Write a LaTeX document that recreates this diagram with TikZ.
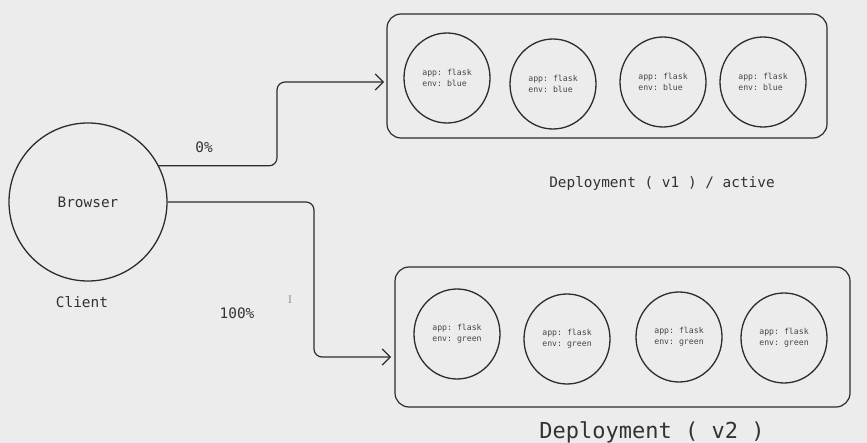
\documentclass[tikz,border=0pt]{standalone}
\usepackage{fontspec}
\setmonofont{DejaVu Sans Mono}
\usetikzlibrary{arrows.meta,shapes.geometric}
\definecolor{bg}{RGB}{236,236,236}
\definecolor{ink}{RGB}{45,45,45}
\definecolor{txt}{RGB}{50,50,50}
\definecolor{podtxt}{RGB}{70,70,70}
\tikzset{
  pod/.style={ellipse, draw=ink, line width=1.3pt, minimum width=86pt, minimum height=90pt, inner sep=0pt,
    align=left, text=podtxt, font=\ttfamily\fontsize{8.2}{11}\selectfont},
  depbox/.style={draw=ink, line width=1.2pt, rounded corners=14pt},
  lbl/.style={text=txt, font=\ttfamily\fontsize{14.4}{16}\selectfont, inner sep=0pt},
  conn/.style={draw=ink, line width=1.2pt, rounded corners=8pt, -{Straight Barb[length=8pt,width=16pt,line width=1.2pt]}}
}
\begin{document}
\begin{tikzpicture}[x=1pt,y=-1pt]
\fill[bg] (0,0) rectangle (867,443);
\useasboundingbox (0,0) rectangle (867,443);

% client
\node[circle, draw=ink, line width=1.3pt, minimum size=158pt, inner sep=0pt, text=txt,
  font=\ttfamily\fontsize{14.4}{16}\selectfont] (browser) at (88,202) {Browser};
\node[lbl] (client) at (82,302) {Client};

% deployment boxes
\node[depbox, minimum width=440pt, minimum height=124pt] (box1) at (607,76) {};
\node[depbox, minimum width=455pt, minimum height=140pt] (box2) at (622.5,337) {};

% pods v1
\node[pod] (p1) at (447,78) {app: flask\\env: blue};
\node[pod] (p2) at (553,84) {app: flask\\env: blue};
\node[pod] (p3) at (663,82) {app: flask\\env: blue};
\node[pod] (p4) at (763,82) {app: flask\\env: blue};

% pods v2
\node[pod] (q1) at (457,334) {app: flask\\env: green};
\node[pod] (q2) at (567,339) {app: flask\\env: green};
\node[pod] (q3) at (679,337) {app: flask\\env: green};
\node[pod] (q4) at (784,338) {app: flask\\env: green};

% labels
\node[lbl] (l1) at (662,183) {Deployment ( v1 ) / active};
\node[lbl, font=\ttfamily\fontsize{22}{24}\selectfont] (l2) at (652,432) {Deployment ( v2 )};
\node[lbl] (pct0) at (204,147) {0\%};
\node[lbl] (pct100) at (237,313) {100\%};
\node[text=gray, font=\fontsize{11}{12}\selectfont, inner sep=0pt] (cursor) at (290,300) {I};

% connectors
\coordinate (k1) at (277,82);
\coordinate (t1) at (384,82);
\coordinate (k2) at (314,357);
\coordinate (t2) at (391,357);
\draw[conn] (browser.27) -| (k1) -- (t1);
\draw[conn] (browser.east) -| (k2) -- (t2);
\end{tikzpicture}
\end{document}
